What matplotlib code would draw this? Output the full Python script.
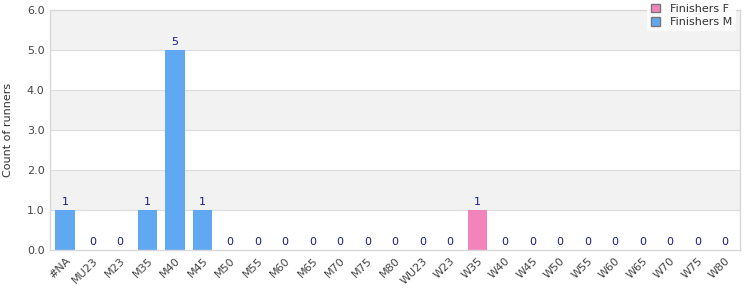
import matplotlib
matplotlib.use("Agg")
import matplotlib.pyplot as plt
import numpy as np
from matplotlib.patches import Patch

categories = ["#NA", "MU23", "M23", "M35", "M40", "M45", "M50", "M55", "M60", "M65",
              "M70", "M75", "M80", "WU23", "W23", "W35", "W40", "W45", "W50", "W55",
              "W60", "W65", "W70", "W75", "W80"]
finishers_m = [1, 0, 0, 1, 5, 1, 0, 0, 0, 0, 0, 0, 0, 0, 0, 0, 0, 0, 0, 0, 0, 0, 0, 0, 0]
finishers_f = [0, 0, 0, 0, 0, 0, 0, 0, 0, 0, 0, 0, 0, 0, 0, 1, 0, 0, 0, 0, 0, 0, 0, 0, 0]
y_ticks = [0.0, 1.0, 2.0, 3.0, 4.0, 5.0, 6.0]

blue = "#60a8f2"
pink = "#f283bb"
label_col = "#1a1a8a"
tick_col = "#444444"

fig = plt.figure(figsize=(7.5, 3.0), dpi=100)
ax = fig.add_axes([50/750, 50/300, 690/750, 240/300])

x = np.arange(len(categories))
m = np.array(finishers_m)
f = np.array(finishers_f)

# alternating bands
for i in range(len(y_ticks) - 1):
    if i % 2 == 1:
        ax.axhspan(y_ticks[i], y_ticks[i + 1], color="#f2f2f2", zorder=0, lw=0)
for t in y_ticks[1:-1]:
    ax.axhline(t, color="#dddddd", lw=0.9, zorder=1)

ax.bar(x, m, width=0.72, color=blue, zorder=2)
ax.bar(x, f, width=0.72, bottom=m, color=pink, zorder=2)

tot = m + f
for xi, v in zip(x, tot):
    ax.text(xi, v + 0.08, f"{v}", ha="center", va="bottom", fontsize=8, color=label_col)

ax.set_xlim(-0.55, len(categories) - 0.45)
ax.set_ylim(0, 6)
ax.set_yticks(y_ticks)
ax.set_yticklabels([f"{t:.1f}" for t in y_ticks])
ax.set_xticks(x)
ax.set_xticklabels(categories, rotation=45, ha="right", rotation_mode="anchor")
ax.tick_params(axis="both", length=0, labelsize=8, colors=tick_col, pad=4)
ax.set_ylabel("Count of runners", fontsize=8, color="#333333", labelpad=10)
for s in ax.spines.values():
    s.set_color("#d8d8d8")
    s.set_linewidth(1)

handles = [Patch(facecolor=pink, edgecolor="#777777", label="Finishers F"),
           Patch(facecolor=blue, edgecolor="#777777", label="Finishers M")]
leg = fig.legend(handles=handles, loc="upper right", bbox_to_anchor=(736/750, 1.0),
                 borderaxespad=0.0,
                 fontsize=8, frameon=True, fancybox=False, handlelength=0.8,
                 handleheight=0.8, borderpad=0.35, labelspacing=0.3, handletextpad=0.9)
leg.get_frame().set_edgecolor("white")
leg.get_frame().set_facecolor("white")
leg.get_frame().set_linewidth(0)
for t in leg.get_texts():
    t.set_color("#333333")

fig.savefig("out.png", dpi=100)
